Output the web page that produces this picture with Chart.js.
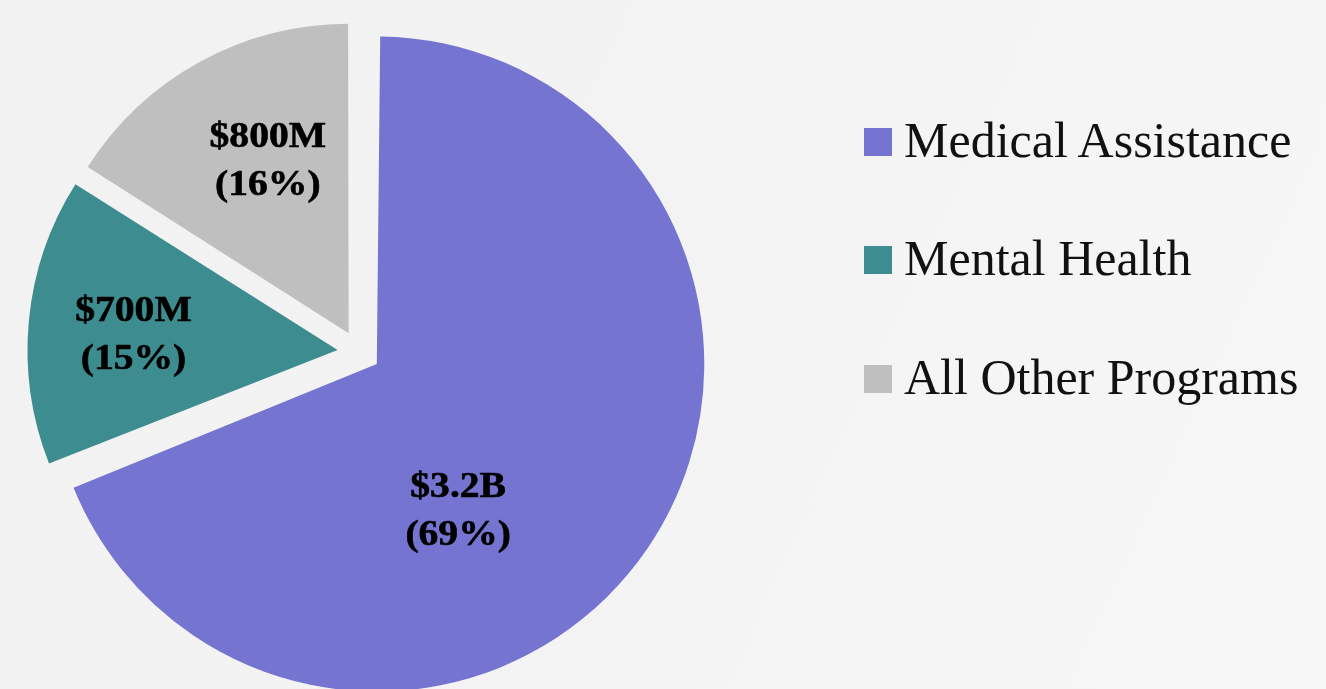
<!DOCTYPE html>
<html lang="en">
<head>
<meta charset="utf-8">
<title>Program spending</title>
<script src="https://cdn.jsdelivr.net/npm/chart.js"></script>
<style>
  html, body { margin: 0; padding: 0; }
  body {
    width: 1326px; height: 689px; overflow: hidden; position: relative;
    background: linear-gradient(115deg, #f2f2f2 0%, #f3f3f3 45%, #f7f7f7 100%);
    font-family: "Liberation Serif", "DejaVu Serif", serif;
  }
  #chart { position: absolute; left: 0; top: 0; }
  #legend { position: absolute; left: 864px; top: 0; }
  .item {
    position: absolute; left: 0; display: flex; align-items: center;
    white-space: nowrap; height: 50px; font-size: 50px; line-height: 50px; color: #111;
  }
  .item span { position: relative; top: -2px; }
  .box { width: 28px; height: 28px; margin-right: 12px; flex: none; }
</style>
</head>
<body>
<canvas id="chart" width="1326" height="689"></canvas>
<div id="legend"></div>

<script>
  // データ
  const categories = ['Medical Assistance', 'Mental Health', 'All Other Programs'];
  const amounts = ['$3.2B', '$700M', '$800M'];
  const shares = [69, 15, 16];
  const colors = ['#7575d1', '#3d8c90', '#bfbfbf'];

  // 凡例 (HTML)
  const legendEl = document.getElementById('legend');
  const rowTops = [117, 235, 354];
  categories.forEach((name, i) => {
    const row = document.createElement('div');
    row.className = 'item';
    row.style.top = rowTops[i] + 'px';
    row.innerHTML = `<div class="box" style="background:${colors[i]}"></div><span>${name}</span>`;
    legendEl.appendChild(row);
  });

  // スライス内のラベル
  const sliceLabels = {
    id: 'sliceLabels',
    afterDatasetsDraw(chart, args, opts) {
      const ctx = chart.ctx;
      const meta = chart.getDatasetMeta(0);
      meta.data.forEach((arc, i) => {
        const mid = (arc.startAngle + arc.endAngle) / 2;
        const off = (arc.options.offset || 0) / 4;
        const ax = arc.x + Math.cos(mid) * off;
        const ay = arc.y + Math.sin(mid) * off;
        const p = opts.place[i];
        const a = mid + p.turn * Math.PI / 180;
        const d = opts.baseRadius * p.dist;
        const cx = ax + Math.cos(a) * d;
        const cy = ay + Math.sin(a) * d;
        ctx.save();
        ctx.translate(cx, cy);
        ctx.scale(opts.stretch, 1); // 元の書体は横幅が広い
        ctx.font = opts.font;
        ctx.fillStyle = opts.color;
        ctx.strokeStyle = opts.color;
        ctx.lineWidth = 0.6;
        ctx.textAlign = 'center';
        ctx.textBaseline = 'middle';
        const lines = [amounts[i], '(' + shares[i] + '%)'];
        lines.forEach((t, k) => {
          const y = (k === 0 ? -1 : 1) * opts.lineGap / 2;
          ctx.fillText(t, 0, y);
          ctx.strokeText(t, 0, y);
        });
        ctx.restore();
      });
    }
  };

  const ctx = document.getElementById('chart').getContext('2d');
  new Chart(ctx, {
    type: 'pie',
    data: {
      labels: categories,
      datasets: [{
        data: shares,
        backgroundColor: colors,
        borderWidth: 0,
        offset: 86,
        radius: 306,
        clip: false
      }]
    },
    options: {
      responsive: false,
      animation: false,
      layout: { padding: { left: 0, right: 608, top: 15, bottom: 0 } },
      plugins: {
        legend: { display: false },
        tooltip: { enabled: false },
        sliceLabels: {
          font: 'bold 36px "Liberation Serif"',
          color: '#000',
          stretch: 1.1,
          lineGap: 48,
          baseRadius: 310,
          place: [
            { turn: 27, dist: 0.545 },
            { turn: -1.4, dist: 0.66 },
            { turn: 3.5, dist: 0.61 }
          ]
        }
      }
    },
    plugins: [sliceLabels]
  });
</script>
</body>
</html>
